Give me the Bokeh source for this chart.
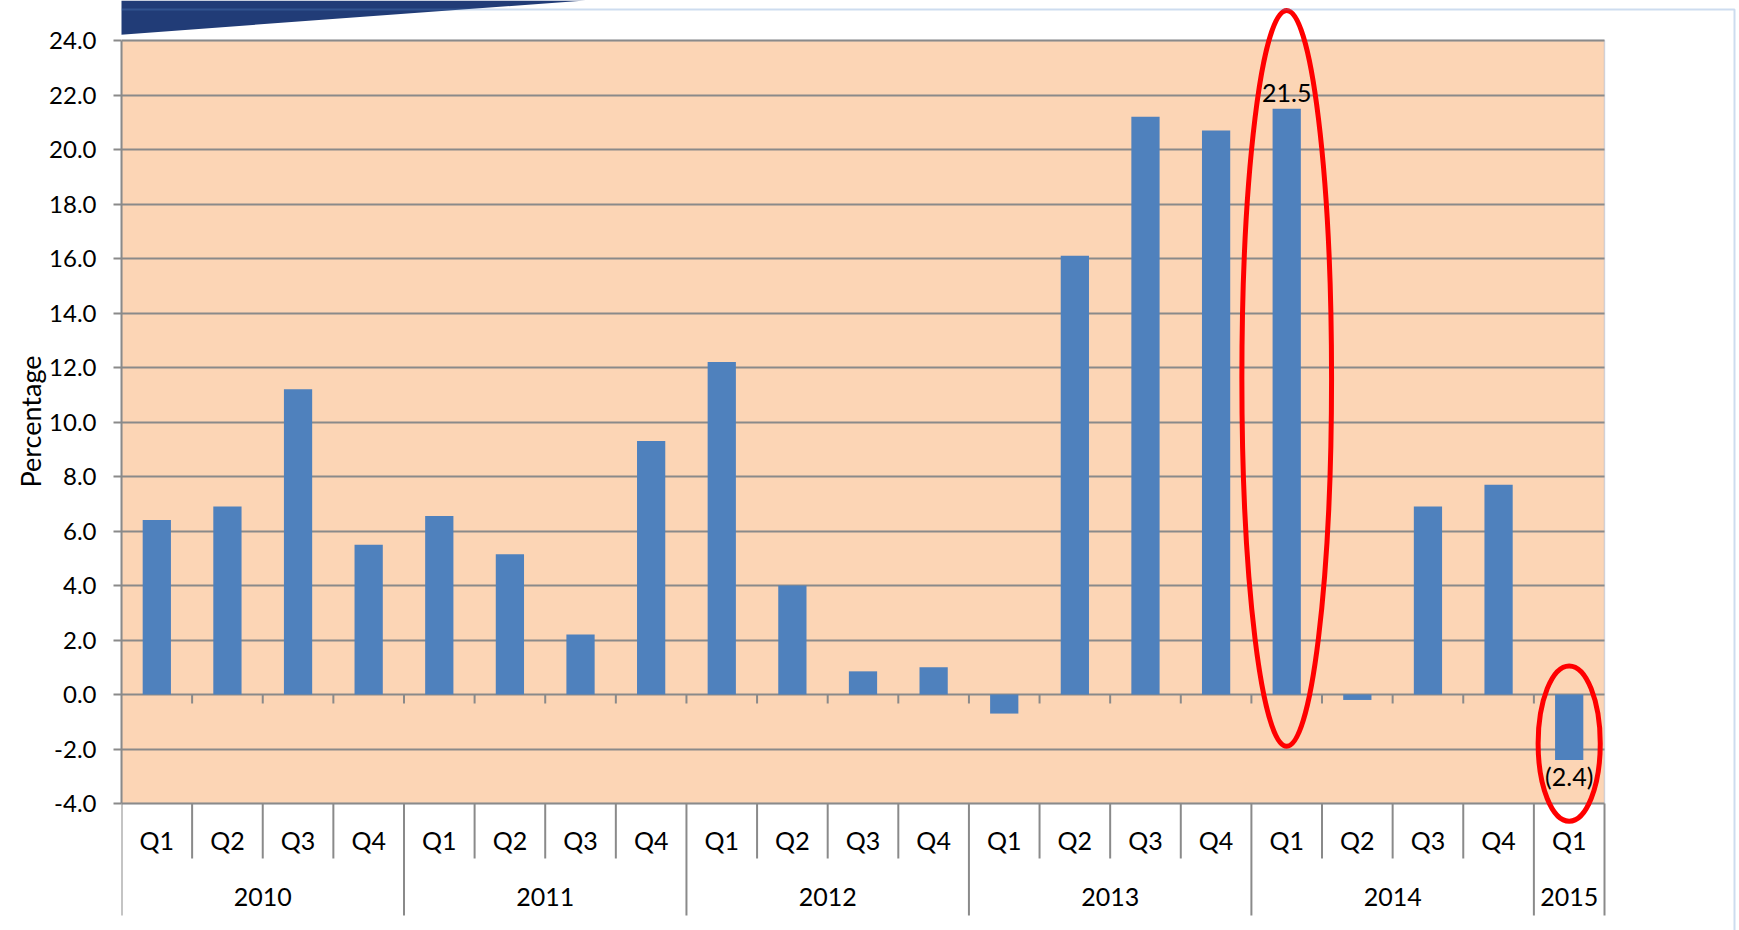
from bokeh.plotting import figure
from bokeh.models import (Range1d, BoxAnnotation, PolyAnnotation, FixedTicker,
                          PrintfTickFormatter, Title)
from bokeh.core.properties import value
from bokeh.embed import file_html
from bokeh.resources import INLINE

# ---------------- data ----------------
years = ["2010", "2010", "2010", "2010",
         "2011", "2011", "2011", "2011",
         "2012", "2012", "2012", "2012",
         "2013", "2013", "2013", "2013",
         "2014", "2014", "2014", "2014",
         "2015"]
quarters = ["Q1", "Q2", "Q3", "Q4",
            "Q1", "Q2", "Q3", "Q4",
            "Q1", "Q2", "Q3", "Q4",
            "Q1", "Q2", "Q3", "Q4",
            "Q1", "Q2", "Q3", "Q4",
            "Q1"]
growth = [6.4, 6.9, 11.2, 5.5,
          6.55, 5.15, 2.2, 9.3,
          12.2, 4.0, 0.85, 1.0,
          -0.7, 16.1, 21.2, 20.7,
          21.5, -0.2, 6.9, 7.7,
          -2.4]
y_tick_values = [-4.0, -2.0, 0.0, 2.0, 4.0, 6.0, 8.0, 10.0, 12.0,
                 14.0, 16.0, 18.0, 20.0, 22.0, 24.0]
labelled = [("2014", "Q1"), ("2015", "Q1")]
y_label = "Percentage"

# highlight rings (centre y, width in categories, height in %)
ring_y = [11.6, -1.8]
ring_w = [1.27, 0.88]
ring_h = [27.0, 5.7]

# ---------------- layout constants ----------------
FONT = value("Lato")
FS = "25px"
BLUE = "#4F81BD"
GRID = "#8A8A8A"
W, H = 1739, 930
PLOT_LEFT, PLOT_RIGHT = 121, 1604
PLOT_TOP, PLOT_BOT = 40, 803
Y_MIN, Y_MAX = y_tick_values[0], y_tick_values[-1]
N = len(years)
PPU = (PLOT_BOT - PLOT_TOP) / (Y_MAX - Y_MIN)
CAT_PX = (PLOT_RIGHT - PLOT_LEFT) / N


def below(px):
    return Y_MIN - px / PPU


xr = Range1d(0, (W - PLOT_LEFT) / CAT_PX)
yr = Range1d(Y_MIN - (H - PLOT_BOT) / PPU, Y_MAX + PLOT_TOP / PPU)

p = figure(width=W, height=H, x_range=xr, y_range=yr, output_backend="svg",
           toolbar_location=None, x_axis_location=None,
           min_border_left=PLOT_LEFT, min_border_right=0,
           min_border_top=0, min_border_bottom=0)
p.outline_line_color = None
p.background_fill_color = "white"
p.border_fill_color = "white"

# slide decoration: navy banner + frame
p.add_layout(PolyAnnotation(xs=[0, 585, 0], ys=[0, 0, 43], xs_units="canvas", ys_units="canvas",
                            fill_color="#213C77", fill_alpha=1, line_color=None, level="overlay"))
p.add_layout(BoxAnnotation(left=8, right=1734, top=9, bottom=2000,
                           left_units="canvas", right_units="canvas",
                           top_units="canvas", bottom_units="canvas",
                           fill_color=None, fill_alpha=0, line_color="#5B8BC9",
                           line_width=2, level="overlay"))

# plot area background
p.add_layout(BoxAnnotation(left=0, right=N, bottom=Y_MIN, top=Y_MAX,
                           fill_color="#FCD5B5", fill_alpha=1,
                           line_color="#6F96CB", line_width=1.5, level="image"))

# y axis
ax = p.yaxis[0]
ax.ticker = FixedTicker(ticks=y_tick_values)
ax.formatter = PrintfTickFormatter(format="%.1f")
ax.bounds = (Y_MIN, Y_MAX)
ax.axis_line_color = GRID
ax.axis_line_width = 2
ax.major_tick_line_color = GRID
ax.major_tick_line_width = 2
ax.major_tick_out = 8
ax.major_tick_in = 0
ax.minor_tick_line_color = None
ax.major_label_standoff = 17
ax.major_label_text_font = "Lato"
ax.major_label_text_font_size = "24px"
ax.major_label_text_color = "black"

# y axis title, centred on the value span (-4 .. 24) rather than on the whole frame
p.add_layout(Title(text=y_label, align="left", offset=H - 487, vertical_align="bottom",
                   standoff=0, text_font="Lato", text_font_size="27px",
                   text_font_style="normal", text_color="black"), "left")

g = p.ygrid[0]
g.ticker = FixedTicker(ticks=y_tick_values)
g.bounds = (Y_MIN + 0.5, Y_MAX - 0.5)
g.grid_line_color = GRID
g.grid_line_width = 2
if "cross_bounds" in g.properties():
    g.cross_bounds = (0, N)
for xg in p.xgrid:
    xg.grid_line_color = None

# bars (one slot per quarter)
centers = [i + 0.5 for i in range(N)]
p.vbar(x=centers, top=growth, bottom=0, width=0.4, fill_color=BLUE, line_color=None)

# category boundaries
bounds_all = list(range(N + 1))
year_bounds = [0] + [i for i in range(1, N) if years[i] != years[i - 1]] + [N]
q_bounds = [b for b in bounds_all if b not in year_bounds]
inner = bounds_all[1:-1]
p.segment(x0=inner, x1=inner, y0=[0] * len(inner), y1=[-9 / PPU] * len(inner),
          line_color=GRID, line_width=2)
p.segment(x0=q_bounds, x1=q_bounds, y0=[Y_MIN] * len(q_bounds), y1=[below(55)] * len(q_bounds),
          line_color=GRID, line_width=2)
p.segment(x0=year_bounds, x1=year_bounds, y0=[Y_MIN] * len(year_bounds),
          y1=[below(112)] * len(year_bounds), line_color=GRID, line_width=2)

# category labels
p.text(x=centers, y=[below(36)] * N, text=quarters, text_font=FONT, text_font_size=FS,
       text_align="center", text_baseline="middle", text_color="black")
uyears = sorted(set(years))
ycent = [sum(c for c, yy in zip(centers, years) if yy == u) / years.count(u) for u in uyears]
p.text(x=ycent, y=[below(93)] * len(uyears), text=uyears, text_font=FONT, text_font_size=FS,
       text_align="center", text_baseline="middle", text_color="black")

# data labels for highlighted bars
keys = list(zip(years, quarters))
lab_idx = [keys.index(f) for f in labelled]
lab_x = [centers[i] for i in lab_idx]
lab_vals = [growth[i] for i in lab_idx]


def fmt(v):
    return f"{v:.1f}" if v >= 0 else f"({abs(v):.1f})"


pos = [(x, v) for x, v in zip(lab_x, lab_vals) if v >= 0]
neg = [(x, v) for x, v in zip(lab_x, lab_vals) if v < 0]
if pos:
    p.text(x=[x for x, _ in pos], y=[v for _, v in pos], text=[fmt(v) for _, v in pos],
           text_font=FONT, text_font_size=FS, text_align="center", text_baseline="bottom",
           y_offset=-7, text_color="black")
if neg:
    p.text(x=[x for x, _ in neg], y=[v for _, v in neg], text=[fmt(v) for _, v in neg],
           text_font=FONT, text_font_size=FS, text_align="center", text_baseline="top",
           y_offset=1, text_color="black")

# red rings
p.ellipse(x=lab_x, y=ring_y, width=ring_w, height=ring_h, fill_color=None,
          line_color="#FF0000", line_width=5)

open("out.html", "w").write(file_html(p, INLINE))
